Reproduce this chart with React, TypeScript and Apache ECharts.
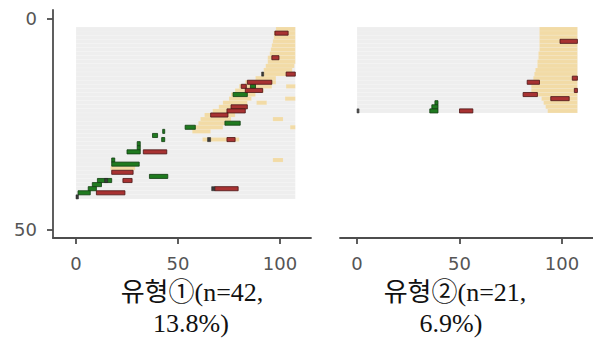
import React, { useEffect, useRef } from 'react';
import * as echarts from 'echarts';

type Seg = [number, number, number]; // [row, start, end]

const P1_ROWS = 42;
const P2_ROWS = 21;
const SEQ_END = 107.5;
const xTicks = [0, 50, 100];
const yTicks = [0, 50];
const p1Title = ['유형①(n=42,', '13.8%)'];
const p2Title = ['유형②(n=21,', '6.9%)'];

const p1Tan: Seg[] = [
  [1, 98, 107.5], [2, 97, 107.5], [3, 97, 107.5], [4, 96.5, 107.5], [5, 96, 107.5],
  [6, 95.5, 107.5], [7, 95, 107.5], [8, 94, 107.5], [9, 94, 107.5], [10, 93, 107],
  [11, 92, 106], [12, 91, 103], [13, 88, 98], [14, 83, 98], [15, 80, 96], [15, 103, 107.5],
  [16, 78, 92], [17, 76, 88], [18, 75, 86], [18, 102.5, 107.5], [19, 72, 84], [19, 88.5, 93.5],
  [20, 70, 82], [21, 67, 80], [22, 63, 78], [23, 61, 76], [23, 96.5, 101.5], [24, 60, 73],
  [25, 58, 72], [25, 105, 107.5], [26, 57, 66], [28, 62, 80], [33, 96.5, 101.5], [35, 17, 29],
];
const p1Red: Seg[] = [
  [2, 97.5, 104], [8, 96, 99.5], [12, 103, 107.5], [14, 84, 96], [15, 81, 83.5], [16, 83, 91.5],
  [20, 76, 84], [21, 74, 83], [22, 66, 74.5], [28, 74, 78], [31, 33, 44.5], [36, 17.5, 28],
  [38, 23, 27.5], [40, 68, 79.5], [41, 10, 24],
];
const p1Green: Seg[] = [
  [15, 85.5, 88], [17, 77, 84], [24, 73, 80.5], [25, 53.5, 58.5], [26, 42.5, 43.5], [27, 37.5, 40],
  [28, 42, 43.5], [29, 30, 31.5], [30, 30, 31.5], [31, 25, 31.5], [33, 17.5, 19], [34, 17.5, 31],
  [37, 36, 45], [38, 10.5, 17.5], [39, 8, 12.5], [40, 6, 10], [41, 1, 7],
];
const p1Dark: Seg[] = [
  [12, 91, 92], [28, 64.5, 66], [38, 14, 15.5], [40, 66.5, 68], [42, 0, 1.2],
];

const p2Tan: Seg[] = [
  [1, 89, 107.5], [2, 89, 107.5], [3, 89, 107.5], [4, 89, 107.5], [5, 89, 107.5], [6, 89, 107.5],
  [7, 88.5, 107.5], [8, 88.5, 107.5], [9, 88, 107.5], [10, 88, 107.5], [11, 87, 107.5],
  [12, 86.5, 107.5], [13, 86, 105], [14, 86, 107.5], [15, 85, 107.5], [16, 85, 106],
  [17, 87, 107.5], [18, 90, 107.5], [19, 91, 107.5], [20, 92, 107.5], [21, 93, 107.5],
];
const p2Red: Seg[] = [
  [4, 99, 107.5], [13, 105, 107.5], [14, 83, 89], [16, 106, 107.5], [17, 81, 88],
  [18, 94.5, 103.5], [21, 50, 56.5],
];
const p2Green: Seg[] = [[19, 38, 39.5], [20, 36.5, 39.5], [21, 35.5, 39.5]];
const p2Dark: Seg[] = [[21, 0, 1]];

// layout constants
const ROW0 = 1.9;
const ROW_H = 0.97;
const AXIS_COLOR = '#4d4d4d';

function rowsBg(n: number): Seg[] {
  const out: Seg[] = [];
  for (let r = 1; r <= n; r++) out.push([r, 0, SEQ_END]);
  return out;
}

function segSeries(idx: number, data: Seg[], fill: string, stroke: string, lw: number) {
  return {
    type: 'custom',
    xAxisIndex: idx,
    yAxisIndex: idx,
    silent: true,
    data,
    encode: { x: [1, 2], y: 0 },
    renderItem: (_p: any, api: any) => {
      const r = api.value(0);
      const s = api.value(1);
      const e = api.value(2);
      const top = ROW0 + (r - 1) * ROW_H;
      const a = api.coord([s, top]);
      const b = api.coord([e, top + ROW_H]);
      return {
        type: 'rect',
        shape: { x: a[0], y: a[1], width: b[0] - a[0], height: b[1] - a[1] },
        style: { fill, stroke, lineWidth: lw },
      };
    },
  };
}

function xAxisFor(idx: number, min: number, max: number) {
  return {
    gridIndex: idx,
    type: 'value',
    min,
    max,
    axisLine: { show: true, onZero: false, lineStyle: { color: AXIS_COLOR, width: 1.8 } },
    axisTick: { show: true, customValues: xTicks, length: 6, lineStyle: { color: AXIS_COLOR, width: 1.8 } },
    axisLabel: { customValues: xTicks, color: '#555', fontSize: 18, fontFamily: 'DejaVu Sans', margin: 16 },
    splitLine: { show: false },
  };
}

export default function App() {
  const ref = useRef<HTMLDivElement>(null);
  useEffect(() => {
    if (!ref.current) return;
    const chart = echarts.init(ref.current, undefined, { renderer: 'svg' });
    const titleFont = "26px 'Liberation Serif', 'Noto Sans CJK KR', serif";
    const titleText = (x: number, y: number, text: string) => ({
      type: 'text',
      x,
      y,
      style: { text, font: titleFont, fill: '#111', textAlign: 'center', textVerticalAlign: 'middle' },
    });
    chart.setOption({
      animation: false,
      backgroundColor: '#ffffff',
      grid: [
        { left: 53, top: 10, width: 258, height: 228 },
        { left: 340, top: 10, width: 253, height: 228 },
      ],
      xAxis: [xAxisFor(0, -11.27, 115.2), xAxisFor(1, -8.29, 115.1)],
      yAxis: [
        {
          gridIndex: 0,
          type: 'value',
          inverse: true,
          min: -2.13,
          max: 51.9,
          axisLine: { show: true, onZero: false, lineStyle: { color: AXIS_COLOR, width: 1.8 } },
          axisTick: { show: true, customValues: yTicks, length: 6, lineStyle: { color: AXIS_COLOR, width: 1.8 } },
          axisLabel: { customValues: yTicks, color: '#555', fontSize: 18, fontFamily: 'DejaVu Sans', margin: 16 },
          splitLine: { show: false },
        },
        {
          gridIndex: 1,
          type: 'value',
          inverse: true,
          min: -2.13,
          max: 51.9,
          show: false,
          splitLine: { show: false },
        },
      ],
      series: [
        segSeries(0, rowsBg(P1_ROWS), '#eeeeee', 'rgba(255,255,255,0.35)', 0.4),
        segSeries(0, p1Tan, '#f2dba6', 'rgba(255,255,255,0.25)', 0.4),
        segSeries(0, p1Green, '#1f7a1f', '#123d12', 0.8),
        segSeries(0, p1Red, '#a83232', '#4a1414', 0.8),
        segSeries(0, p1Dark, '#3a3a3a', '#222', 0.5),
        segSeries(1, rowsBg(P2_ROWS), '#eeeeee', 'rgba(255,255,255,0.35)', 0.4),
        segSeries(1, p2Tan, '#f2dba6', 'rgba(255,255,255,0.25)', 0.4),
        segSeries(1, p2Green, '#1f7a1f', '#123d12', 0.8),
        segSeries(1, p2Red, '#a83232', '#4a1414', 0.8),
        segSeries(1, p2Dark, '#555', '#333', 0.5),
      ],
      graphic: [
        titleText(192, 292, p1Title[0]),
        titleText(191, 323, p1Title[1]),
        titleText(455, 292, p2Title[0]),
        titleText(451, 323, p2Title[1]),
      ],
    });
    return () => chart.dispose();
  }, []);
  return (
    <div
      ref={ref}
      style={{ position: 'fixed', left: 0, top: 0, width: 593, height: 356, background: '#fff' }}
    />
  );
}
